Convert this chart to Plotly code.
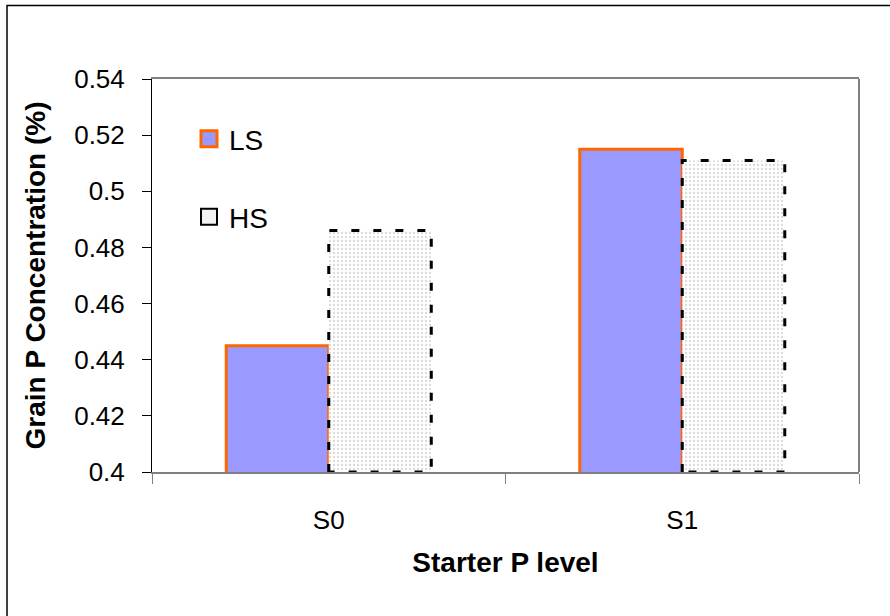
import plotly.graph_objects as go

# ---- data ----
categories = ["S0", "S1"]
ls_values = [0.445, 0.515]
hs_values = [0.486, 0.511]
series_names = ["LS", "HS"]
y_tick_vals = [0.40, 0.42, 0.44, 0.46, 0.48, 0.50, 0.52, 0.54]
y_tick_text = ["0.4", "0.42", "0.44", "0.46", "0.48", "0.5", "0.52", "0.54"]
x_title = "Starter P level"
y_title = "Grain P Concentration (%)"

# ---- style ----
W, H = 890, 616
ML, MR, MT, MB = 152, 31, 79, 144
BAR_W = 0.29
FONT = "Liberation Sans, Arial, sans-serif"
LS_FILL = "#9999FF"
LS_LINE = "#FF6600"

fig = go.Figure()

# LS bars (left of category centre)
fig.add_trace(go.Bar(
    x=categories, y=ls_values, name=series_names[0],
    width=BAR_W, offset=-BAR_W,
    marker=dict(color=LS_FILL, line=dict(color=LS_LINE, width=3)),
    showlegend=False,
))
# HS bars (right of category centre), dotted fill
fig.add_trace(go.Bar(
    x=categories, y=hs_values, name=series_names[1],
    width=BAR_W, offset=0,
    marker=dict(color="white", line=dict(width=0),
                pattern=dict(shape=".", fgcolor="#b4b4b4", bgcolor="white",
                             size=4, solidity=0.25)),
    showlegend=False,
))

# dashed outline of HS bars, built from the HS values on an overlaid linear axis
ox, oy = [], []
for i, v in enumerate(hs_values):
    ox += [i, i, i + BAR_W, i + BAR_W, i, None]
    oy += [y_tick_vals[0], v, v, y_tick_vals[0], y_tick_vals[0], None]
fig.add_trace(go.Scatter(
    x=ox, y=oy, xaxis="x2", mode="lines",
    line=dict(color="black", width=3, dash="8px,14px"),
    showlegend=False, hoverinfo="skip",
))

# legend entries
fig.add_trace(go.Scatter(
    x=[None], y=[None], mode="markers", name=series_names[0],
    marker=dict(symbol="square", size=16, color=LS_FILL,
                line=dict(color=LS_LINE, width=3)),
    legend="legend",
))
fig.add_trace(go.Scatter(
    x=[None], y=[None], mode="markers", name=series_names[1],
    marker=dict(symbol="square", size=16, color="#f2f2f2",
                line=dict(color="black", width=2)),
    legend="legend2",
))

pw = W - ML - MR
ph = H - MT - MB

fig.update_layout(
    width=W, height=H,
    margin=dict(l=ML, r=MR, t=MT, b=MB, pad=0),
    paper_bgcolor="white", plot_bgcolor="white",
    font=dict(family=FONT, color="black", size=26),
    barmode="overlay",
    xaxis=dict(
        type="category", range=[-0.5, 1.5],
        showline=True, linecolor="#808080", linewidth=2, mirror=True,
        ticks="outside", tickson="boundaries", ticklen=10, tickcolor="#808080",
        tickwidth=1, ticklabelstandoff=24,
        showgrid=False, zeroline=False,
        tickfont=dict(size=26),
        title=dict(text="<b>" + x_title + "</b>", font=dict(size=28), standoff=18),
    ),
    xaxis2=dict(
        overlaying="x", range=[-0.5, 1.5], visible=False,
    ),
    yaxis=dict(
        range=[0.4, 0.54], tickvals=y_tick_vals, ticktext=y_tick_text,
        showline=True, linecolor="black", linewidth=1,
        ticks="outside", ticklen=9, tickcolor="black", tickwidth=1,
        ticklabelstandoff=12,
        showgrid=False, zeroline=False,
        tickfont=dict(size=26),
        title=dict(text="<b>" + y_title + "</b>", font=dict(size=28), standoff=20),
    ),
    legend=dict(x=(189 - ML) / pw, y=(H - MB - 139) / ph, xanchor="left",
                yanchor="middle", bgcolor="rgba(0,0,0,0)",
                font=dict(size=28)),
    legend2=dict(x=(189 - ML) / pw, y=(H - MB - 217) / ph, xanchor="left",
                 yanchor="middle", bgcolor="rgba(0,0,0,0)",
                 font=dict(size=28)),
    shapes=[
        # right edge of plot frame
        dict(type="line", xref="paper", yref="paper", x0=1, x1=1, y0=0, y1=1,
             line=dict(color="#808080", width=2)),
        # outer chart border
        dict(type="rect", xref="paper", yref="paper",
             x0=(7 - ML) / pw, x1=(W + 10 - ML) / pw,
             y0=(H - MB - (H + 10)) / ph, y1=(H - MB - 5.5) / ph,
             line=dict(color="black", width=1.5)),
    ],
)

fig.write_html("out.html")
